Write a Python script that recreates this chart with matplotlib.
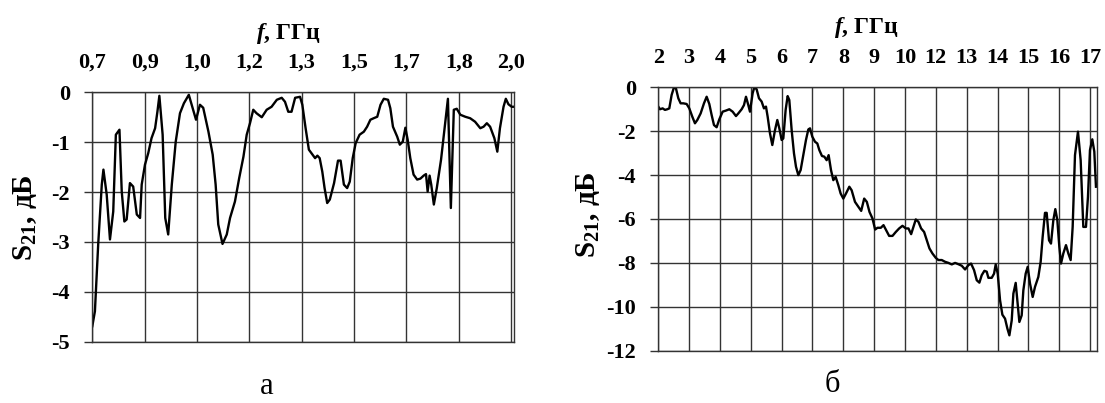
import numpy as np
import matplotlib
matplotlib.use("Agg")
import matplotlib.pyplot as plt

plt.rcParams['font.family'] = ['Liberation Serif', 'DejaVu Serif']
plt.rcParams['font.weight'] = 'bold'
plt.rcParams['axes.unicode_minus'] = False
plt.rcParams['mathtext.fontset'] = 'custom'
plt.rcParams['mathtext.rm'] = 'Liberation Serif:bold'
plt.rcParams['mathtext.it'] = 'Liberation Serif:italic:bold'
plt.rcParams['mathtext.bf'] = 'Liberation Serif:bold'

# panel a: 0.7 - 2.0 GHz
freq_a = [0.700, 0.708, 0.718, 0.729, 0.734, 0.744, 0.754, 0.764, 0.772, 0.783,
          0.790, 0.798, 0.805, 0.815, 0.825, 0.836, 0.846, 0.851, 0.861, 0.871,
          0.881, 0.892, 0.899, 0.905, 0.915, 0.923, 0.932, 0.943, 0.955, 0.968,
          0.980, 0.995, 1.007, 1.017, 1.029, 1.039, 1.055, 1.068, 1.077, 1.085,
          1.098, 1.111, 1.121, 1.136, 1.149, 1.162, 1.172, 1.182, 1.192, 1.202,
          1.218, 1.233, 1.248, 1.264, 1.279, 1.289, 1.299, 1.309, 1.320, 1.335,
          1.342, 1.352, 1.362, 1.373, 1.381, 1.388, 1.395, 1.403, 1.410, 1.418,
          1.426, 1.439, 1.451, 1.459, 1.469, 1.479, 1.487, 1.496, 1.505, 1.517,
          1.530, 1.540, 1.550, 1.560, 1.571, 1.581, 1.591, 1.604, 1.611, 1.619,
          1.632, 1.640, 1.649, 1.657, 1.664, 1.672, 1.682, 1.693, 1.703, 1.713,
          1.720, 1.725, 1.731, 1.736, 1.744, 1.753, 1.766, 1.777, 1.787, 1.796,
          1.805, 1.814, 1.825, 1.840, 1.855, 1.870, 1.886, 1.896, 1.906, 1.916,
          1.929, 1.938, 1.946, 1.957, 1.964, 1.972, 1.982, 1.987]
s21_a = [-4.69, -4.39, -3.05, -1.85, -1.55, -2.05, -2.95, -2.39, -0.85, -0.75,
         -1.99, -2.59, -2.55, -1.82, -1.89, -2.45, -2.52, -1.85, -1.45, -1.22,
         -0.92, -0.72, -0.39, -0.07, -0.85, -2.52, -2.85, -1.85, -0.99, -0.42,
         -0.22, -0.05, -0.32, -0.55, -0.25, -0.31, -0.79, -1.25, -1.85, -2.65,
         -3.04, -2.85, -2.52, -2.19, -1.72, -1.29, -0.85, -0.62, -0.35, -0.42,
         -0.50, -0.35, -0.29, -0.15, -0.11, -0.19, -0.39, -0.39, -0.11, -0.09,
         -0.25, -0.72, -1.15, -1.25, -1.32, -1.27, -1.32, -1.59, -1.92, -2.22,
         -2.15, -1.82, -1.37, -1.37, -1.85, -1.92, -1.79, -1.32, -1.02, -0.85,
         -0.79, -0.69, -0.55, -0.52, -0.49, -0.25, -0.13, -0.15, -0.32, -0.69,
         -0.89, -1.05, -0.99, -0.71, -0.95, -1.32, -1.65, -1.75, -1.73, -1.67,
         -1.64, -1.99, -1.67, -1.85, -2.25, -1.92, -1.35, -0.72, -0.13, -2.32,
         -0.35, -0.33, -0.45, -0.49, -0.52, -0.59, -0.72, -0.69, -0.62, -0.69,
         -0.92, -1.19, -0.72, -0.29, -0.13, -0.24, -0.29, -0.29]
labels_a = ['0,7', '0,9', '1,0', '1,2', '1,3', '1,5', '1,7', '1,8', '2,0']
yticks_a = [0, -1, -2, -3, -4, -5]

# panel b: 2 - 17 GHz
freq_b = [2.000, 2.057, 2.149, 2.229, 2.309, 2.378, 2.458, 2.539, 2.607, 2.688,
          2.768, 2.859, 2.974, 3.066, 3.169, 3.260, 3.341, 3.455, 3.570, 3.662,
          3.753, 3.833, 3.914, 4.005, 4.097, 4.212, 4.326, 4.441, 4.555, 4.670,
          4.750, 4.865, 4.945, 5.014, 5.094, 5.151, 5.243, 5.300, 5.380, 5.461,
          5.552, 5.632, 5.701, 5.759, 5.839, 5.919, 6.011, 6.091, 6.160, 6.240,
          6.297, 6.377, 6.446, 6.503, 6.584, 6.664, 6.733, 6.813, 6.893, 6.985,
          7.076, 7.157, 7.214, 7.294, 7.386, 7.466, 7.535, 7.626, 7.706, 7.787,
          7.855, 7.936, 8.016, 8.096, 8.188, 8.268, 8.360, 8.451, 8.566, 8.646,
          8.761, 8.882, 8.974, 9.077, 9.168, 9.260, 9.363, 9.454, 9.534, 9.649,
          9.741, 9.832, 9.935, 10.050, 10.164, 10.279, 10.393, 10.507, 10.599, 10.691,
          10.771, 10.851, 10.942, 11.034, 11.137, 11.229, 11.320, 11.423, 11.538, 11.629,
          11.744, 11.858, 11.973, 12.087, 12.202, 12.316, 12.431, 12.545, 12.660, 12.751,
          12.854, 12.946, 13.037, 13.117, 13.209, 13.289, 13.346, 13.461, 13.541, 13.598,
          13.667, 13.747, 13.827, 13.919, 13.999, 14.068, 14.148, 14.205, 14.285, 14.342,
          14.411, 14.491, 14.548, 14.628, 14.697, 14.777, 14.869, 14.949, 15.063, 15.143,
          15.212, 15.292, 15.350, 15.430, 15.498, 15.579, 15.647, 15.716, 15.785, 15.842,
          15.922, 16.014, 16.094, 16.174, 16.243, 16.323, 16.426, 16.518, 16.609, 16.701,
          16.769, 16.838, 16.918, 16.987, 17.044]
s21_b = [-0.88, -1.00, -0.96, -1.03, -1.00, -0.96, -0.35, 0.00, -0.05, -0.50,
         -0.73, -0.73, -0.76, -0.96, -1.34, -1.64, -1.49, -1.19, -0.73, -0.43,
         -0.76, -1.26, -1.72, -1.82, -1.46, -1.11, -1.06, -1.00, -1.11, -1.31,
         -1.19, -1.00, -0.81, -0.43, -0.81, -1.11, -0.27, 0.00, -0.09, -0.50,
         -0.65, -0.96, -0.88, -1.34, -2.10, -2.63, -1.95, -1.49, -1.87, -2.40,
         -2.33, -1.03, -0.40, -0.58, -1.95, -3.01, -3.62, -4.00, -3.77, -3.09,
         -2.40, -1.92, -1.87, -2.25, -2.48, -2.56, -2.86, -3.13, -3.16, -3.32,
         -3.09, -3.77, -4.23, -4.08, -4.46, -4.84, -5.07, -4.84, -4.53, -4.69,
         -5.22, -5.45, -5.63, -5.07, -5.22, -5.68, -5.98, -6.48, -6.40, -6.40,
         -6.28, -6.51, -6.77, -6.77, -6.59, -6.43, -6.31, -6.43, -6.43, -6.69,
         -6.36, -6.02, -6.13, -6.43, -6.59, -6.97, -7.34, -7.57, -7.77, -7.87,
         -7.87, -7.95, -8.00, -8.07, -8.00, -8.06, -8.13, -8.30, -8.10, -8.03,
         -8.33, -8.79, -8.90, -8.56, -8.36, -8.40, -8.68, -8.68, -8.49, -8.07,
         -8.49, -9.70, -10.36, -10.54, -10.99, -11.30, -10.62, -9.40, -8.91, -9.70,
         -10.69, -10.39, -9.25, -8.49, -8.18, -8.94, -9.55, -9.09, -8.64, -7.95,
         -6.81, -5.72, -5.72, -6.97, -7.12, -6.05, -5.55, -6.05, -7.27, -8.03,
         -7.57, -7.19, -7.57, -7.87, -6.36, -3.09, -2.02, -3.32, -6.36, -6.36,
         -4.99, -2.86, -2.37, -2.93, -4.53]
labels_b = ['2', '3', '4', '5', '6', '7', '8', '9', '10', '12', '13', '14', '15', '16', '17']
yticks_b = [0, -2, -4, -6, -8, -10, -12]

W, H = 1105, 403
fig = plt.figure(figsize=(W / 100, H / 100), dpi=100)

grid_c = '#333333'


def panel(rect, freq, s21, xt, xlab, yt, xlim, ylim):
    ax = fig.add_axes(rect)
    ax.plot(freq, s21, color='black', lw=1.7)
    ax.set_xlim(*xlim)
    ax.set_ylim(*ylim)
    ax.set_xticks(xt)
    ax.set_xticklabels(xlab)
    ax.set_yticks(yt)
    ax.set_yticklabels([str(v) for v in yt])
    ax.xaxis.tick_top()
    ax.tick_params(axis='x', length=0, pad=14, labelsize=16)
    ax.tick_params(axis='y', length=6, width=1.0, color=grid_c, pad=10, labelsize=16)
    ax.grid(True, color=grid_c, lw=1.0)
    for s in ax.spines.values():
        s.set_color(grid_c)
        s.set_linewidth(1.0)
    return ax


def frac(x0, y0, x1, y1):
    return [x0 / W, 1 - y1 / H, (x1 - x0) / W, (y1 - y0) / H]


panel(frac(92.3, 92.3, 514, 341.7), freq_a, s21_a, np.linspace(0.7, 1.98, 9), labels_a,
      yticks_a, (0.7, 1.989), (-5, 0))
panel(frac(658.3, 87.3, 1097.3, 350.7), freq_b, s21_b, np.linspace(2, 16.84, 15), labels_b,
      yticks_b, (2, 17.09), (-12, 0))

fig.text(288 / W, 1 - 34 / H, r'$\mathit{f}$, ГГц', ha='center', va='center', fontsize=17)
fig.text(866 / W, 1 - 28 / H, r'$\mathit{f}$, ГГц', ha='center', va='center', fontsize=17)
fig.text(25 / W, 1 - 218 / H, r'$\mathrm{S}_{21}$, дБ', ha='center', va='center',
         rotation=90, fontsize=21)
fig.text(588 / W, 1 - 215 / H, r'$\mathrm{S}_{21}$, дБ', ha='center', va='center',
         rotation=90, fontsize=21)
fig.text(267 / W, 1 - 386 / H, 'а', ha='center', va='center', fontsize=22, fontweight='normal')
fig.text(832 / W, 1 - 384 / H, 'б', ha='center', va='center', fontsize=22, fontweight='normal')

fig.savefig('out.png', dpi=100)
